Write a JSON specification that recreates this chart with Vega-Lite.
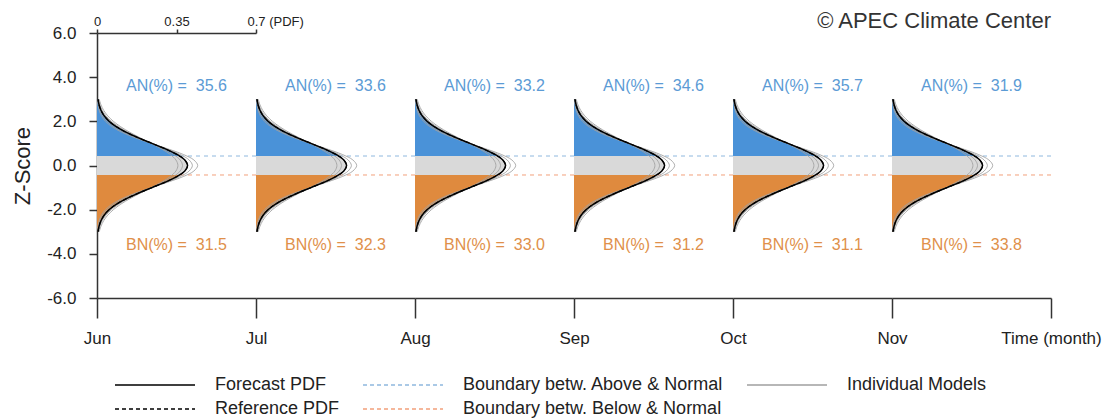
{
  "$schema": "https://vega.github.io/schema/vega-lite/v6.json",
  "background": "white",
  "padding": {"left": 11, "top": 10, "right": 5, "bottom": 2},
  "config": {
    "view": {"stroke": null},
    "font": "Liberation Sans",
    "axis": {"grid": false, "labelFont": "Liberation Sans", "titleFont": "Liberation Sans", "domainColor": "#333333", "tickColor": "#333333", "labelColor": "#222222", "domainWidth": 1.5, "tickWidth": 1.5, "labelFlush": false, "labelOverlap": false}
  },
  "datasets": {
    "pdf": [
      {"z": -3, "p": 0.0044}, {"z": -2.75, "p": 0.0091}, {"z": -2.5, "p": 0.0175}, {"z": -2.25, "p": 0.0317}, {"z": -2, "p": 0.054},
      {"z": -1.75, "p": 0.0863}, {"z": -1.5, "p": 0.1295}, {"z": -1.25, "p": 0.1826}, {"z": -1, "p": 0.242}, {"z": -0.75, "p": 0.3011},
      {"z": -0.5, "p": 0.3521}, {"z": -0.43, "p": 0.3637}, {"z": -0.25, "p": 0.3867}, {"z": 0, "p": 0.3989}, {"z": 0.25, "p": 0.3867},
      {"z": 0.43, "p": 0.3637}, {"z": 0.5, "p": 0.3521}, {"z": 0.75, "p": 0.3011}, {"z": 1, "p": 0.242}, {"z": 1.25, "p": 0.1826},
      {"z": 1.5, "p": 0.1295}, {"z": 1.75, "p": 0.0863}, {"z": 2, "p": 0.054}, {"z": 2.25, "p": 0.0317}, {"z": 2.5, "p": 0.0175},
      {"z": 2.75, "p": 0.0091}, {"z": 3, "p": 0.0044}
    ],
    "fill": [
      {"seg": "AN", "z": 0.43, "p": 0.3637}, {"seg": "AN", "z": 0.5, "p": 0.3521}, {"seg": "AN", "z": 0.75, "p": 0.3011}, {"seg": "AN", "z": 1, "p": 0.242},
      {"seg": "AN", "z": 1.25, "p": 0.1826}, {"seg": "AN", "z": 1.5, "p": 0.1295}, {"seg": "AN", "z": 1.75, "p": 0.0863}, {"seg": "AN", "z": 2, "p": 0.054},
      {"seg": "AN", "z": 2.25, "p": 0.0317}, {"seg": "AN", "z": 2.5, "p": 0.0175}, {"seg": "AN", "z": 2.75, "p": 0.0091}, {"seg": "AN", "z": 3, "p": 0.0044},
      {"seg": "NN", "z": -0.43, "p": 0.3637}, {"seg": "NN", "z": -0.25, "p": 0.3867}, {"seg": "NN", "z": 0, "p": 0.3989}, {"seg": "NN", "z": 0.25, "p": 0.3867}, {"seg": "NN", "z": 0.43, "p": 0.3637},
      {"seg": "BN", "z": -3, "p": 0.0044}, {"seg": "BN", "z": -2.75, "p": 0.0091}, {"seg": "BN", "z": -2.5, "p": 0.0175}, {"seg": "BN", "z": -2.25, "p": 0.0317},
      {"seg": "BN", "z": -2, "p": 0.054}, {"seg": "BN", "z": -1.75, "p": 0.0863}, {"seg": "BN", "z": -1.5, "p": 0.1295}, {"seg": "BN", "z": -1.25, "p": 0.1826},
      {"seg": "BN", "z": -1, "p": 0.242}, {"seg": "BN", "z": -0.75, "p": 0.3011}, {"seg": "BN", "z": -0.5, "p": 0.3521}, {"seg": "BN", "z": -0.43, "p": 0.3637}
    ],
    "models": [
      {"model": "m1", "z": -3, "p": 0.0017}, {"model": "m1", "z": -2.75, "p": 0.0042}, {"model": "m1", "z": -2.5, "p": 0.0094}, {"model": "m1", "z": -2.25, "p": 0.0195}, {"model": "m1", "z": -2, "p": 0.0375},
      {"model": "m1", "z": -1.75, "p": 0.0669}, {"model": "m1", "z": -1.5, "p": 0.1105}, {"model": "m1", "z": -1.25, "p": 0.169}, {"model": "m1", "z": -1, "p": 0.2391}, {"model": "m1", "z": -0.75, "p": 0.3132},
      {"model": "m1", "z": -0.5, "p": 0.3799}, {"model": "m1", "z": -0.25, "p": 0.4265}, {"model": "m1", "z": 0, "p": 0.4433}, {"model": "m1", "z": 0.25, "p": 0.4265}, {"model": "m1", "z": 0.5, "p": 0.3799},
      {"model": "m1", "z": 0.75, "p": 0.3132}, {"model": "m1", "z": 1, "p": 0.2391}, {"model": "m1", "z": 1.25, "p": 0.169}, {"model": "m1", "z": 1.5, "p": 0.1105}, {"model": "m1", "z": 1.75, "p": 0.0669},
      {"model": "m1", "z": 2, "p": 0.0375}, {"model": "m1", "z": 2.25, "p": 0.0195}, {"model": "m1", "z": 2.5, "p": 0.0094}, {"model": "m1", "z": 2.75, "p": 0.0042}, {"model": "m1", "z": 3, "p": 0.0017},
      {"model": "m2", "z": -3, "p": 0.0029}, {"model": "m2", "z": -2.75, "p": 0.0064}, {"model": "m2", "z": -2.5, "p": 0.0132}, {"model": "m2", "z": -2.25, "p": 0.0254}, {"model": "m2", "z": -2, "p": 0.0458},
      {"model": "m2", "z": -1.75, "p": 0.077}, {"model": "m2", "z": -1.5, "p": 0.1207}, {"model": "m2", "z": -1.25, "p": 0.1767}, {"model": "m2", "z": -1, "p": 0.2413}, {"model": "m2", "z": -0.75, "p": 0.3075},
      {"model": "m2", "z": -0.5, "p": 0.3656}, {"model": "m2", "z": -0.25, "p": 0.4056}, {"model": "m2", "z": 0, "p": 0.4199}, {"model": "m2", "z": 0.25, "p": 0.4056}, {"model": "m2", "z": 0.5, "p": 0.3656},
      {"model": "m2", "z": 0.75, "p": 0.3075}, {"model": "m2", "z": 1, "p": 0.2413}, {"model": "m2", "z": 1.25, "p": 0.1767}, {"model": "m2", "z": 1.5, "p": 0.1207}, {"model": "m2", "z": 1.75, "p": 0.077},
      {"model": "m2", "z": 2, "p": 0.0458}, {"model": "m2", "z": 2.25, "p": 0.0254}, {"model": "m2", "z": 2.5, "p": 0.0132}, {"model": "m2", "z": 2.75, "p": 0.0064}, {"model": "m2", "z": 3, "p": 0.0029},
      {"model": "m3", "z": -3, "p": 0.0069}, {"model": "m3", "z": -2.75, "p": 0.013}, {"model": "m3", "z": -2.5, "p": 0.0233}, {"model": "m3", "z": -2.25, "p": 0.0396}, {"model": "m3", "z": -2, "p": 0.0635},
      {"model": "m3", "z": -1.75, "p": 0.0963}, {"model": "m3", "z": -1.5, "p": 0.1383}, {"model": "m3", "z": -1.25, "p": 0.1878}, {"model": "m3", "z": -1, "p": 0.2412}, {"model": "m3", "z": -0.75, "p": 0.293},
      {"model": "m3", "z": -0.5, "p": 0.3367}, {"model": "m3", "z": -0.25, "p": 0.366}, {"model": "m3", "z": 0, "p": 0.3764}, {"model": "m3", "z": 0.25, "p": 0.366}, {"model": "m3", "z": 0.5, "p": 0.3367},
      {"model": "m3", "z": 0.75, "p": 0.293}, {"model": "m3", "z": 1, "p": 0.2412}, {"model": "m3", "z": 1.25, "p": 0.1878}, {"model": "m3", "z": 1.5, "p": 0.1383}, {"model": "m3", "z": 1.75, "p": 0.0963},
      {"model": "m3", "z": 2, "p": 0.0635}, {"model": "m3", "z": 2.25, "p": 0.0396}, {"model": "m3", "z": 2.5, "p": 0.0233}, {"model": "m3", "z": 2.75, "p": 0.013}, {"model": "m3", "z": 3, "p": 0.0069},
      {"model": "m4", "z": -3, "p": 0.0099}, {"model": "m4", "z": -2.75, "p": 0.0175}, {"model": "m4", "z": -2.5, "p": 0.0295}, {"model": "m4", "z": -2.25, "p": 0.0473}, {"model": "m4", "z": -2, "p": 0.0723},
      {"model": "m4", "z": -1.75, "p": 0.1051}, {"model": "m4", "z": -1.5, "p": 0.1453}, {"model": "m4", "z": -1.25, "p": 0.1911}, {"model": "m4", "z": -1, "p": 0.2391}, {"model": "m4", "z": -0.75, "p": 0.2846},
      {"model": "m4", "z": -0.5, "p": 0.3224}, {"model": "m4", "z": -0.25, "p": 0.3474}, {"model": "m4", "z": 0, "p": 0.3562}, {"model": "m4", "z": 0.25, "p": 0.3474}, {"model": "m4", "z": 0.5, "p": 0.3224},
      {"model": "m4", "z": 0.75, "p": 0.2846}, {"model": "m4", "z": 1, "p": 0.2391}, {"model": "m4", "z": 1.25, "p": 0.1911}, {"model": "m4", "z": 1.5, "p": 0.1453}, {"model": "m4", "z": 1.75, "p": 0.1051},
      {"model": "m4", "z": 2, "p": 0.0723}, {"model": "m4", "z": 2.25, "p": 0.0473}, {"model": "m4", "z": 2.5, "p": 0.0295}, {"model": "m4", "z": 2.75, "p": 0.0175}, {"model": "m4", "z": 3, "p": 0.0099}
    ]
  },
  "spacing": 0,
  "bounds": "flush",
  "resolve": {"scale": {"stroke": "shared"}},
  "hconcat": [
    {
      "width": 159, "height": 265,
      "resolve": {"axis": {"x": "independent"}},
      "layer": [
        {"data": {"values": [{"b": "A"}]}, "mark": {"type": "rule", "strokeDash": [4, 4], "strokeWidth": 1},
         "encoding": {"y": {"datum": 0.43, "type": "quantitative", "scale": {"domain": [-6, 6], "nice": false, "zero": false}},
                      "stroke": {"datum": "Boundary betw. Above & Normal", "type": "nominal"}}},
        {"data": {"values": [{"b": "B"}]}, "mark": {"type": "rule", "strokeDash": [4, 4], "strokeWidth": 1},
         "encoding": {"y": {"datum": -0.43, "type": "quantitative", "scale": {"domain": [-6, 6], "nice": false, "zero": false}},
                      "stroke": {"datum": "Boundary betw. Below & Normal", "type": "nominal"}}},
        {"data": {"name": "fill"}, "mark": {"type": "area", "orient": "horizontal", "interpolate": "catmull-rom"},
         "encoding": {
           "y": {"field": "z", "type": "quantitative", "scale": {"domain": [-6, 6], "nice": false, "zero": false},
                 "axis": {"orient": "left", "values": [-6, -5.5, -5, -4.5, -4, -3.5, -3, -2.5, -2, -1.5, -1, -0.5, 0, 0.5, 1, 1.5, 2, 2.5, 3, 3.5, 4, 4.5, 5, 5.5, 6],
                          "labelExpr": "datum.value % 2 === 0 ? (datum.value < 0 ? '-' : '') + format(abs(datum.value), '.1f') : ''",
                          "tickSize": {"condition": {"test": "datum.value % 2 === 0", "value": 8}, "value": 4},
                          "labelPadding": 13, "labelFontSize": 17, "title": "Z-Score", "titleFontSize": 22, "titleFontWeight": "normal", "titleColor": "#222222", "titlePadding": 12}},
           "x": {"field": "p", "type": "quantitative", "scale": {"domain": [0, 0.7], "nice": false}, "stack": null,
                 "axis": {"orient": "bottom", "values": [0], "labelExpr": "'Jun'", "tickSize": 20, "labelPadding": 12, "labelFontSize": 17, "title": null}},
           "fill": {"field": "seg", "type": "nominal", "scale": {"domain": ["AN", "NN", "BN"], "range": ["#4a92d8", "#d9d9d9", "#df8a3e"]}, "legend": null}
         }},
        {"data": {"name": "models"}, "mark": {"type": "line", "interpolate": "catmull-rom", "strokeWidth": 1, "opacity": 0.85},
         "encoding": {"y": {"field": "z", "type": "quantitative", "scale": {"domain": [-6, 6], "nice": false, "zero": false}},
                      "x": {"field": "p", "type": "quantitative", "scale": {"domain": [0, 0.7], "nice": false}, "axis": null},
                      "order": {"field": "z"}, "detail": {"field": "model"},
                      "stroke": {"datum": "Individual Models", "type": "nominal"}}},
        {"data": {"name": "pdf"}, "mark": {"type": "line", "interpolate": "catmull-rom", "strokeWidth": 1.2, "strokeDash": [4, 3]},
         "encoding": {"y": {"field": "z", "type": "quantitative", "scale": {"domain": [-6, 6], "nice": false, "zero": false}},
                      "x": {"field": "p", "type": "quantitative", "scale": {"domain": [0, 0.7], "nice": false}, "axis": null},
                      "order": {"field": "z"},
                      "stroke": {"datum": "Reference PDF", "type": "nominal"}}},
        {"data": {"name": "pdf"}, "mark": {"type": "line", "interpolate": "catmull-rom", "strokeWidth": 1.5},
         "encoding": {"y": {"field": "z", "type": "quantitative", "scale": {"domain": [-6, 6], "nice": false, "zero": false}},
                      "x": {"field": "p", "type": "quantitative", "scale": {"domain": [0, 0.7], "nice": false},
                            "axis": {"orient": "top", "values": [0, 0.35, 0.7], "labelExpr": "datum.value == 0 ? '0' : (datum.value == 0.35 ? '0.35' : '0.7 (PDF)')",
                                     "tickSize": 4, "labelPadding": 1, "labelFontSize": 13, "title": null,
                                     "labelAlign": {"condition": {"test": "datum.value == 0.7", "value": "left"}, "value": "center"},
                                     "labelOffset": {"condition": {"test": "datum.value == 0.7", "value": -9}, "value": 0}}},
                      "order": {"field": "z"},
                      "stroke": {"datum": "Forecast PDF", "type": "nominal",
                                 "scale": {"domain": ["Forecast PDF", "Reference PDF", "Boundary betw. Above & Normal", "Boundary betw. Below & Normal", "Individual Models"],
                                           "range": ["#000000", "#000000", "#8fb8de", "#f2a07b", "#a0a0a0"]},
                                 "legend": {"orient": "none", "legendX": 17, "legendY": 341, "columns": 3, "title": null,
                                            "symbolType": "M-1,0H7", "symbolSize": 400, "symbolStrokeWidth": 1.5,
                                            "labelFontSize": 18, "labelFont": "Liberation Sans", "labelColor": "#222222", "labelLimit": 500,
                                            "labelOffset": 79, "columnPadding": 20, "rowPadding": 4, "padding": 0,
                                            "encode": {"symbols": {"update": {"strokeDash": {"signal": "indexof(['Reference PDF','Boundary betw. Above & Normal','Boundary betw. Below & Normal'], datum.value) >= 0 ? [4,3] : [1,0]"}}}}}}}},
        {"data": {"values": [{"an": "AN(%) = \u00a035.6", "bn": "BN(%) = \u00a031.5"}]},
         "layer": [
           {"mark": {"type": "text", "fontSize": 16, "color": "#5b9bd5", "baseline": "middle"},
            "encoding": {"x": {"datum": 0.35, "type": "quantitative", "scale": {"domain": [0, 0.7], "nice": false}, "axis": null},
                         "y": {"datum": 3.6, "type": "quantitative", "scale": {"domain": [-6, 6], "nice": false, "zero": false}},
                         "text": {"field": "an"}}},
           {"mark": {"type": "text", "fontSize": 16, "color": "#e0904a", "baseline": "middle"},
            "encoding": {"x": {"datum": 0.35, "type": "quantitative", "scale": {"domain": [0, 0.7], "nice": false}, "axis": null},
                         "y": {"datum": -3.6, "type": "quantitative", "scale": {"domain": [-6, 6], "nice": false, "zero": false}},
                         "text": {"field": "bn"}}}
         ]}
      ]
    },
    {
      "width": 159, "height": 265,
      "layer": [
        {"data": {"values": [{"b": "A"}]}, "mark": {"type": "rule", "strokeDash": [4, 4], "strokeWidth": 1},
         "encoding": {"y": {"datum": 0.43, "type": "quantitative", "scale": {"domain": [-6, 6], "nice": false, "zero": false}, "axis": null},
                      "stroke": {"datum": "Boundary betw. Above & Normal", "type": "nominal"}}},
        {"data": {"values": [{"b": "B"}]}, "mark": {"type": "rule", "strokeDash": [4, 4], "strokeWidth": 1},
         "encoding": {"y": {"datum": -0.43, "type": "quantitative", "scale": {"domain": [-6, 6], "nice": false, "zero": false}, "axis": null},
                      "stroke": {"datum": "Boundary betw. Below & Normal", "type": "nominal"}}},
        {"data": {"name": "fill"}, "mark": {"type": "area", "orient": "horizontal", "interpolate": "catmull-rom"},
         "encoding": {
           "y": {"field": "z", "type": "quantitative", "scale": {"domain": [-6, 6], "nice": false, "zero": false}, "axis": null},
           "x": {"field": "p", "type": "quantitative", "scale": {"domain": [0, 0.7], "nice": false}, "stack": null,
                 "axis": {"orient": "bottom", "values": [0], "labelExpr": "'Jul'", "tickSize": 20, "labelPadding": 12, "labelFontSize": 17, "title": null}},
           "fill": {"field": "seg", "type": "nominal", "scale": {"domain": ["AN", "NN", "BN"], "range": ["#4a92d8", "#d9d9d9", "#df8a3e"]}, "legend": null}
         }},
        {"data": {"name": "models"}, "mark": {"type": "line", "interpolate": "catmull-rom", "strokeWidth": 1, "opacity": 0.85},
         "encoding": {"y": {"field": "z", "type": "quantitative", "scale": {"domain": [-6, 6], "nice": false, "zero": false}, "axis": null},
                      "x": {"field": "p", "type": "quantitative", "scale": {"domain": [0, 0.7], "nice": false}},
                      "order": {"field": "z"}, "detail": {"field": "model"},
                      "stroke": {"datum": "Individual Models", "type": "nominal"}}},
        {"data": {"name": "pdf"}, "mark": {"type": "line", "interpolate": "catmull-rom", "strokeWidth": 1.2, "strokeDash": [4, 3]},
         "encoding": {"y": {"field": "z", "type": "quantitative", "scale": {"domain": [-6, 6], "nice": false, "zero": false}, "axis": null},
                      "x": {"field": "p", "type": "quantitative", "scale": {"domain": [0, 0.7], "nice": false}},
                      "order": {"field": "z"},
                      "stroke": {"datum": "Reference PDF", "type": "nominal"}}},
        {"data": {"name": "pdf"}, "mark": {"type": "line", "interpolate": "catmull-rom", "strokeWidth": 1.5},
         "encoding": {"y": {"field": "z", "type": "quantitative", "scale": {"domain": [-6, 6], "nice": false, "zero": false}, "axis": null},
                      "x": {"field": "p", "type": "quantitative", "scale": {"domain": [0, 0.7], "nice": false}},
                      "order": {"field": "z"},
                      "stroke": {"datum": "Forecast PDF", "type": "nominal"}}},
        {"data": {"values": [{"an": "AN(%) = \u00a033.6", "bn": "BN(%) = \u00a032.3"}]},
         "layer": [
           {"mark": {"type": "text", "fontSize": 16, "color": "#5b9bd5", "baseline": "middle"},
            "encoding": {"x": {"datum": 0.35, "type": "quantitative", "scale": {"domain": [0, 0.7], "nice": false}},
                         "y": {"datum": 3.6, "type": "quantitative", "scale": {"domain": [-6, 6], "nice": false, "zero": false}, "axis": null},
                         "text": {"field": "an"}}},
           {"mark": {"type": "text", "fontSize": 16, "color": "#e0904a", "baseline": "middle"},
            "encoding": {"x": {"datum": 0.35, "type": "quantitative", "scale": {"domain": [0, 0.7], "nice": false}},
                         "y": {"datum": -3.6, "type": "quantitative", "scale": {"domain": [-6, 6], "nice": false, "zero": false}, "axis": null},
                         "text": {"field": "bn"}}}
         ]}
      ]
    },
    {
      "width": 159, "height": 265,
      "layer": [
        {"data": {"values": [{"b": "A"}]}, "mark": {"type": "rule", "strokeDash": [4, 4], "strokeWidth": 1},
         "encoding": {"y": {"datum": 0.43, "type": "quantitative", "scale": {"domain": [-6, 6], "nice": false, "zero": false}, "axis": null},
                      "stroke": {"datum": "Boundary betw. Above & Normal", "type": "nominal"}}},
        {"data": {"values": [{"b": "B"}]}, "mark": {"type": "rule", "strokeDash": [4, 4], "strokeWidth": 1},
         "encoding": {"y": {"datum": -0.43, "type": "quantitative", "scale": {"domain": [-6, 6], "nice": false, "zero": false}, "axis": null},
                      "stroke": {"datum": "Boundary betw. Below & Normal", "type": "nominal"}}},
        {"data": {"name": "fill"}, "mark": {"type": "area", "orient": "horizontal", "interpolate": "catmull-rom"},
         "encoding": {
           "y": {"field": "z", "type": "quantitative", "scale": {"domain": [-6, 6], "nice": false, "zero": false}, "axis": null},
           "x": {"field": "p", "type": "quantitative", "scale": {"domain": [0, 0.7], "nice": false}, "stack": null,
                 "axis": {"orient": "bottom", "values": [0], "labelExpr": "'Aug'", "tickSize": 20, "labelPadding": 12, "labelFontSize": 17, "title": null}},
           "fill": {"field": "seg", "type": "nominal", "scale": {"domain": ["AN", "NN", "BN"], "range": ["#4a92d8", "#d9d9d9", "#df8a3e"]}, "legend": null}
         }},
        {"data": {"name": "models"}, "mark": {"type": "line", "interpolate": "catmull-rom", "strokeWidth": 1, "opacity": 0.85},
         "encoding": {"y": {"field": "z", "type": "quantitative", "scale": {"domain": [-6, 6], "nice": false, "zero": false}, "axis": null},
                      "x": {"field": "p", "type": "quantitative", "scale": {"domain": [0, 0.7], "nice": false}},
                      "order": {"field": "z"}, "detail": {"field": "model"},
                      "stroke": {"datum": "Individual Models", "type": "nominal"}}},
        {"data": {"name": "pdf"}, "mark": {"type": "line", "interpolate": "catmull-rom", "strokeWidth": 1.2, "strokeDash": [4, 3]},
         "encoding": {"y": {"field": "z", "type": "quantitative", "scale": {"domain": [-6, 6], "nice": false, "zero": false}, "axis": null},
                      "x": {"field": "p", "type": "quantitative", "scale": {"domain": [0, 0.7], "nice": false}},
                      "order": {"field": "z"},
                      "stroke": {"datum": "Reference PDF", "type": "nominal"}}},
        {"data": {"name": "pdf"}, "mark": {"type": "line", "interpolate": "catmull-rom", "strokeWidth": 1.5},
         "encoding": {"y": {"field": "z", "type": "quantitative", "scale": {"domain": [-6, 6], "nice": false, "zero": false}, "axis": null},
                      "x": {"field": "p", "type": "quantitative", "scale": {"domain": [0, 0.7], "nice": false}},
                      "order": {"field": "z"},
                      "stroke": {"datum": "Forecast PDF", "type": "nominal"}}},
        {"data": {"values": [{"an": "AN(%) = \u00a033.2", "bn": "BN(%) = \u00a033.0"}]},
         "layer": [
           {"mark": {"type": "text", "fontSize": 16, "color": "#5b9bd5", "baseline": "middle"},
            "encoding": {"x": {"datum": 0.35, "type": "quantitative", "scale": {"domain": [0, 0.7], "nice": false}},
                         "y": {"datum": 3.6, "type": "quantitative", "scale": {"domain": [-6, 6], "nice": false, "zero": false}, "axis": null},
                         "text": {"field": "an"}}},
           {"mark": {"type": "text", "fontSize": 16, "color": "#e0904a", "baseline": "middle"},
            "encoding": {"x": {"datum": 0.35, "type": "quantitative", "scale": {"domain": [0, 0.7], "nice": false}},
                         "y": {"datum": -3.6, "type": "quantitative", "scale": {"domain": [-6, 6], "nice": false, "zero": false}, "axis": null},
                         "text": {"field": "bn"}}}
         ]}
      ]
    },
    {
      "width": 159, "height": 265,
      "layer": [
        {"data": {"values": [{"b": "A"}]}, "mark": {"type": "rule", "strokeDash": [4, 4], "strokeWidth": 1},
         "encoding": {"y": {"datum": 0.43, "type": "quantitative", "scale": {"domain": [-6, 6], "nice": false, "zero": false}, "axis": null},
                      "stroke": {"datum": "Boundary betw. Above & Normal", "type": "nominal"}}},
        {"data": {"values": [{"b": "B"}]}, "mark": {"type": "rule", "strokeDash": [4, 4], "strokeWidth": 1},
         "encoding": {"y": {"datum": -0.43, "type": "quantitative", "scale": {"domain": [-6, 6], "nice": false, "zero": false}, "axis": null},
                      "stroke": {"datum": "Boundary betw. Below & Normal", "type": "nominal"}}},
        {"data": {"name": "fill"}, "mark": {"type": "area", "orient": "horizontal", "interpolate": "catmull-rom"},
         "encoding": {
           "y": {"field": "z", "type": "quantitative", "scale": {"domain": [-6, 6], "nice": false, "zero": false}, "axis": null},
           "x": {"field": "p", "type": "quantitative", "scale": {"domain": [0, 0.7], "nice": false}, "stack": null,
                 "axis": {"orient": "bottom", "values": [0], "labelExpr": "'Sep'", "tickSize": 20, "labelPadding": 12, "labelFontSize": 17, "title": null}},
           "fill": {"field": "seg", "type": "nominal", "scale": {"domain": ["AN", "NN", "BN"], "range": ["#4a92d8", "#d9d9d9", "#df8a3e"]}, "legend": null}
         }},
        {"data": {"name": "models"}, "mark": {"type": "line", "interpolate": "catmull-rom", "strokeWidth": 1, "opacity": 0.85},
         "encoding": {"y": {"field": "z", "type": "quantitative", "scale": {"domain": [-6, 6], "nice": false, "zero": false}, "axis": null},
                      "x": {"field": "p", "type": "quantitative", "scale": {"domain": [0, 0.7], "nice": false}},
                      "order": {"field": "z"}, "detail": {"field": "model"},
                      "stroke": {"datum": "Individual Models", "type": "nominal"}}},
        {"data": {"name": "pdf"}, "mark": {"type": "line", "interpolate": "catmull-rom", "strokeWidth": 1.2, "strokeDash": [4, 3]},
         "encoding": {"y": {"field": "z", "type": "quantitative", "scale": {"domain": [-6, 6], "nice": false, "zero": false}, "axis": null},
                      "x": {"field": "p", "type": "quantitative", "scale": {"domain": [0, 0.7], "nice": false}},
                      "order": {"field": "z"},
                      "stroke": {"datum": "Reference PDF", "type": "nominal"}}},
        {"data": {"name": "pdf"}, "mark": {"type": "line", "interpolate": "catmull-rom", "strokeWidth": 1.5},
         "encoding": {"y": {"field": "z", "type": "quantitative", "scale": {"domain": [-6, 6], "nice": false, "zero": false}, "axis": null},
                      "x": {"field": "p", "type": "quantitative", "scale": {"domain": [0, 0.7], "nice": false}},
                      "order": {"field": "z"},
                      "stroke": {"datum": "Forecast PDF", "type": "nominal"}}},
        {"data": {"values": [{"an": "AN(%) = \u00a034.6", "bn": "BN(%) = \u00a031.2"}]},
         "layer": [
           {"mark": {"type": "text", "fontSize": 16, "color": "#5b9bd5", "baseline": "middle"},
            "encoding": {"x": {"datum": 0.35, "type": "quantitative", "scale": {"domain": [0, 0.7], "nice": false}},
                         "y": {"datum": 3.6, "type": "quantitative", "scale": {"domain": [-6, 6], "nice": false, "zero": false}, "axis": null},
                         "text": {"field": "an"}}},
           {"mark": {"type": "text", "fontSize": 16, "color": "#e0904a", "baseline": "middle"},
            "encoding": {"x": {"datum": 0.35, "type": "quantitative", "scale": {"domain": [0, 0.7], "nice": false}},
                         "y": {"datum": -3.6, "type": "quantitative", "scale": {"domain": [-6, 6], "nice": false, "zero": false}, "axis": null},
                         "text": {"field": "bn"}}}
         ]}
      ]
    },
    {
      "width": 159, "height": 265,
      "layer": [
        {"data": {"values": [{"b": "A"}]}, "mark": {"type": "rule", "strokeDash": [4, 4], "strokeWidth": 1},
         "encoding": {"y": {"datum": 0.43, "type": "quantitative", "scale": {"domain": [-6, 6], "nice": false, "zero": false}, "axis": null},
                      "stroke": {"datum": "Boundary betw. Above & Normal", "type": "nominal"}}},
        {"data": {"values": [{"b": "B"}]}, "mark": {"type": "rule", "strokeDash": [4, 4], "strokeWidth": 1},
         "encoding": {"y": {"datum": -0.43, "type": "quantitative", "scale": {"domain": [-6, 6], "nice": false, "zero": false}, "axis": null},
                      "stroke": {"datum": "Boundary betw. Below & Normal", "type": "nominal"}}},
        {"data": {"name": "fill"}, "mark": {"type": "area", "orient": "horizontal", "interpolate": "catmull-rom"},
         "encoding": {
           "y": {"field": "z", "type": "quantitative", "scale": {"domain": [-6, 6], "nice": false, "zero": false}, "axis": null},
           "x": {"field": "p", "type": "quantitative", "scale": {"domain": [0, 0.7], "nice": false}, "stack": null,
                 "axis": {"orient": "bottom", "values": [0], "labelExpr": "'Oct'", "tickSize": 20, "labelPadding": 12, "labelFontSize": 17, "title": null}},
           "fill": {"field": "seg", "type": "nominal", "scale": {"domain": ["AN", "NN", "BN"], "range": ["#4a92d8", "#d9d9d9", "#df8a3e"]}, "legend": null}
         }},
        {"data": {"name": "models"}, "mark": {"type": "line", "interpolate": "catmull-rom", "strokeWidth": 1, "opacity": 0.85},
         "encoding": {"y": {"field": "z", "type": "quantitative", "scale": {"domain": [-6, 6], "nice": false, "zero": false}, "axis": null},
                      "x": {"field": "p", "type": "quantitative", "scale": {"domain": [0, 0.7], "nice": false}},
                      "order": {"field": "z"}, "detail": {"field": "model"},
                      "stroke": {"datum": "Individual Models", "type": "nominal"}}},
        {"data": {"name": "pdf"}, "mark": {"type": "line", "interpolate": "catmull-rom", "strokeWidth": 1.2, "strokeDash": [4, 3]},
         "encoding": {"y": {"field": "z", "type": "quantitative", "scale": {"domain": [-6, 6], "nice": false, "zero": false}, "axis": null},
                      "x": {"field": "p", "type": "quantitative", "scale": {"domain": [0, 0.7], "nice": false}},
                      "order": {"field": "z"},
                      "stroke": {"datum": "Reference PDF", "type": "nominal"}}},
        {"data": {"name": "pdf"}, "mark": {"type": "line", "interpolate": "catmull-rom", "strokeWidth": 1.5},
         "encoding": {"y": {"field": "z", "type": "quantitative", "scale": {"domain": [-6, 6], "nice": false, "zero": false}, "axis": null},
                      "x": {"field": "p", "type": "quantitative", "scale": {"domain": [0, 0.7], "nice": false}},
                      "order": {"field": "z"},
                      "stroke": {"datum": "Forecast PDF", "type": "nominal"}}},
        {"data": {"values": [{"an": "AN(%) = \u00a035.7", "bn": "BN(%) = \u00a031.1"}]},
         "layer": [
           {"mark": {"type": "text", "fontSize": 16, "color": "#5b9bd5", "baseline": "middle"},
            "encoding": {"x": {"datum": 0.35, "type": "quantitative", "scale": {"domain": [0, 0.7], "nice": false}},
                         "y": {"datum": 3.6, "type": "quantitative", "scale": {"domain": [-6, 6], "nice": false, "zero": false}, "axis": null},
                         "text": {"field": "an"}}},
           {"mark": {"type": "text", "fontSize": 16, "color": "#e0904a", "baseline": "middle"},
            "encoding": {"x": {"datum": 0.35, "type": "quantitative", "scale": {"domain": [0, 0.7], "nice": false}},
                         "y": {"datum": -3.6, "type": "quantitative", "scale": {"domain": [-6, 6], "nice": false, "zero": false}, "axis": null},
                         "text": {"field": "bn"}}}
         ]}
      ]
    },
    {
      "width": 159, "height": 265,
      "layer": [
        {"data": {"values": [{"b": "A"}]}, "mark": {"type": "rule", "strokeDash": [4, 4], "strokeWidth": 1},
         "encoding": {"y": {"datum": 0.43, "type": "quantitative", "scale": {"domain": [-6, 6], "nice": false, "zero": false}, "axis": null},
                      "stroke": {"datum": "Boundary betw. Above & Normal", "type": "nominal"}}},
        {"data": {"values": [{"b": "B"}]}, "mark": {"type": "rule", "strokeDash": [4, 4], "strokeWidth": 1},
         "encoding": {"y": {"datum": -0.43, "type": "quantitative", "scale": {"domain": [-6, 6], "nice": false, "zero": false}, "axis": null},
                      "stroke": {"datum": "Boundary betw. Below & Normal", "type": "nominal"}}},
        {"data": {"name": "fill"}, "mark": {"type": "area", "orient": "horizontal", "interpolate": "catmull-rom"},
         "encoding": {
           "y": {"field": "z", "type": "quantitative", "scale": {"domain": [-6, 6], "nice": false, "zero": false}, "axis": null},
           "x": {"field": "p", "type": "quantitative", "scale": {"domain": [0, 0.7], "nice": false}, "stack": null,
                 "axis": {"orient": "bottom", "values": [0, 0.7], "labelExpr": "datum.value < 0.35 ? 'Nov' : 'Time (month)'", "tickSize": 20, "labelPadding": 12, "labelFontSize": 17, "title": null}},
           "fill": {"field": "seg", "type": "nominal", "scale": {"domain": ["AN", "NN", "BN"], "range": ["#4a92d8", "#d9d9d9", "#df8a3e"]}, "legend": null}
         }},
        {"data": {"name": "models"}, "mark": {"type": "line", "interpolate": "catmull-rom", "strokeWidth": 1, "opacity": 0.85},
         "encoding": {"y": {"field": "z", "type": "quantitative", "scale": {"domain": [-6, 6], "nice": false, "zero": false}, "axis": null},
                      "x": {"field": "p", "type": "quantitative", "scale": {"domain": [0, 0.7], "nice": false}},
                      "order": {"field": "z"}, "detail": {"field": "model"},
                      "stroke": {"datum": "Individual Models", "type": "nominal"}}},
        {"data": {"name": "pdf"}, "mark": {"type": "line", "interpolate": "catmull-rom", "strokeWidth": 1.2, "strokeDash": [4, 3]},
         "encoding": {"y": {"field": "z", "type": "quantitative", "scale": {"domain": [-6, 6], "nice": false, "zero": false}, "axis": null},
                      "x": {"field": "p", "type": "quantitative", "scale": {"domain": [0, 0.7], "nice": false}},
                      "order": {"field": "z"},
                      "stroke": {"datum": "Reference PDF", "type": "nominal"}}},
        {"data": {"name": "pdf"}, "mark": {"type": "line", "interpolate": "catmull-rom", "strokeWidth": 1.5},
         "encoding": {"y": {"field": "z", "type": "quantitative", "scale": {"domain": [-6, 6], "nice": false, "zero": false}, "axis": null},
                      "x": {"field": "p", "type": "quantitative", "scale": {"domain": [0, 0.7], "nice": false}},
                      "order": {"field": "z"},
                      "stroke": {"datum": "Forecast PDF", "type": "nominal"}}},
        {"data": {"values": [{"an": "AN(%) = \u00a031.9", "bn": "BN(%) = \u00a033.8", "c": "© APEC Climate Center"}]},
         "layer": [
           {"mark": {"type": "text", "fontSize": 16, "color": "#5b9bd5", "baseline": "middle"},
            "encoding": {"x": {"datum": 0.35, "type": "quantitative", "scale": {"domain": [0, 0.7], "nice": false}},
                         "y": {"datum": 3.6, "type": "quantitative", "scale": {"domain": [-6, 6], "nice": false, "zero": false}, "axis": null},
                         "text": {"field": "an"}}},
           {"mark": {"type": "text", "fontSize": 16, "color": "#e0904a", "baseline": "middle"},
            "encoding": {"x": {"datum": 0.35, "type": "quantitative", "scale": {"domain": [0, 0.7], "nice": false}},
                         "y": {"datum": -3.6, "type": "quantitative", "scale": {"domain": [-6, 6], "nice": false, "zero": false}, "axis": null},
                         "text": {"field": "bn"}}},
           {"mark": {"type": "text", "fontSize": 22, "color": "#333333", "align": "right", "baseline": "alphabetic", "dy": -5},
            "encoding": {"x": {"datum": 0.7, "type": "quantitative", "scale": {"domain": [0, 0.7], "nice": false}},
                         "y": {"datum": 6, "type": "quantitative", "scale": {"domain": [-6, 6], "nice": false, "zero": false}, "axis": null},
                         "text": {"field": "c"}}}
         ]}
      ]
    }
  ]
}
